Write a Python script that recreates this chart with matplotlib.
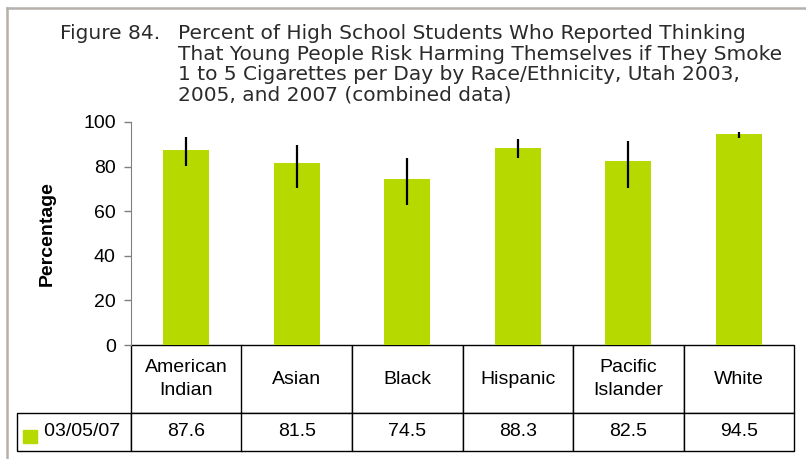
import matplotlib.pyplot as plt
from matplotlib.patches import Rectangle
from matplotlib.lines import Line2D

categories = ['American\nIndian', 'Asian', 'Black', 'Hispanic', 'Pacific\nIslander', 'White']
values = [87.6, 81.5, 74.5, 88.3, 82.5, 94.5]
ci_low = [80.3, 70.3, 62.6, 83.7, 70.3, 93.0]
ci_high = [93.3, 89.7, 83.7, 92.2, 91.3, 95.5]
series_name = '03/05/07'
yticks = [0, 20, 40, 60, 80, 100]

bar_color = '#b6d900'
W, H = 806, 459

plt.rcParams['font.family'] = ['Liberation Sans', 'DejaVu Sans']
fig = plt.figure(figsize=(W / 100, H / 100), dpi=100)

# axes placed in pixel terms
ax = fig.add_axes([131 / W, 1 - 345 / H, (794 - 131) / W, (345 - 122) / H])
aw, ah = 794 - 131, 345 - 122

x = list(range(len(values)))
err_lo = [v - l for v, l in zip(values, ci_low)]
err_hi = [h - v for v, h in zip(values, ci_high)]
ax.bar(x, values, width=0.42, color=bar_color, zorder=2)
ax.errorbar(x, values, yerr=[err_lo, err_hi], fmt='none', ecolor='black',
            elinewidth=1.6, capsize=0, zorder=3)

ax.set_xlim(-0.5, len(values) - 0.5)
ax.set_ylim(0, 100)
ax.set_yticks(yticks)
ax.set_xticks([])
for s in ['top', 'right', 'bottom']:
    ax.spines[s].set_visible(False)
ax.spines['left'].set_color('#808080')
ax.tick_params(axis='y', direction='out', length=5, width=1, color='#808080',
               labelsize=14, pad=6)
ax.set_ylabel('Percentage', fontsize=14, fontweight='bold', labelpad=20)

# data table under the plot; sizes in axes fractions so the bbox scale is 1
label_w = 114
tbl = ax.table(cellText=[[f'{v:.1f}' for v in values]],
               colLabels=categories,
               cellLoc='center',
               bbox=[0, -(451 - 345) / ah, 1, (451 - 345) / ah])
tbl.add_cell(1, -1, width=label_w / aw, height=38 / ah,
             text='   ' + series_name, loc='left')
tbl.auto_set_font_size(False)
for (r, c), cell in tbl.get_celld().items():
    cell.set_linewidth(1.0)
    cell.set_edgecolor('black')
    cell.get_text().set_fontsize(14)
    cell.get_text().set_linespacing(1.45)
    cell.set_height((68 if r == 0 else 38) / ah)
    cell.set_width((label_w if c == -1 else aw / len(values)) / aw)

# legend key in the row label
ax.add_patch(Rectangle(((23 - 131) / aw, -(443 - 345) / ah), 14 / aw, 13 / ah,
                       transform=ax.transAxes, color=bar_color, clip_on=False, zorder=5))

# title
tcol = '#2b2b2b'
tfont = 'DejaVu Sans'
fig.text(60 / W, 1 - 24 / H, 'Figure 84.', fontsize=14.5, color=tcol,
         family=tfont, va='top')
fig.text(178 / W, 1 - 24 / H,
         'Percent of High School Students Who Reported Thinking\n'
         'That Young People Risk Harming Themselves if They Smoke\n'
         '1 to 5 Cigarettes per Day by Race/Ethnicity, Utah 2003,\n'
         '2005, and 2007 (combined data)',
         fontsize=14.5, color=tcol, family=tfont, va='top', linespacing=1.1)

# page border (top and left)
bc = '#b5b0ab'
fig.add_artist(Line2D([7 / W, 1], [1 - 8 / H, 1 - 8 / H], color=bc, lw=1.8))
fig.add_artist(Line2D([7 / W, 7 / W], [0, 1 - 8 / H], color=bc, lw=1.8))

fig.savefig('out.png', dpi=100)
